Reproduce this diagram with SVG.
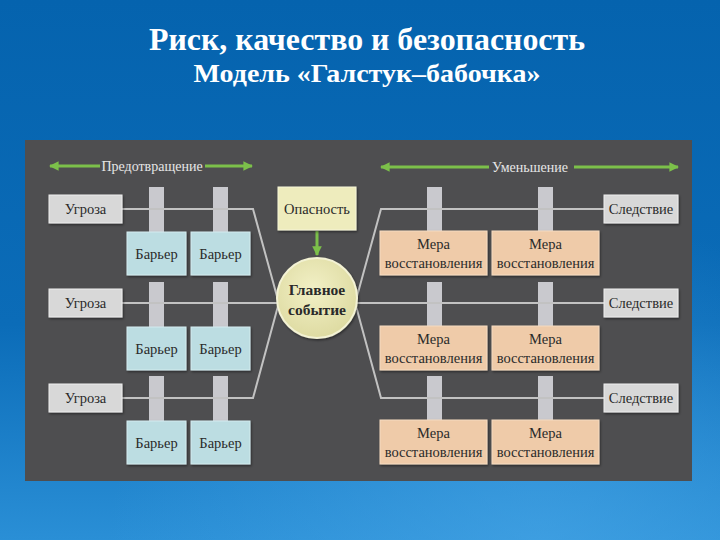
<svg xmlns="http://www.w3.org/2000/svg" width="720" height="540" viewBox="0 0 720 540">
<defs>
<linearGradient id="bg" x1="0" y1="0" x2="0" y2="1">
<stop offset="0" stop-color="#0563ae"/>
<stop offset="0.6" stop-color="#0b6cb8"/>
<stop offset="1" stop-color="#2a8fd6"/>
</linearGradient>
<radialGradient id="glow" cx="0.75" cy="1" r="0.6">
<stop offset="0" stop-color="#4aa8e8" stop-opacity="0.6"/>
<stop offset="1" stop-color="#4aa8e8" stop-opacity="0"/>
</radialGradient>
<radialGradient id="circ" cx="0.45" cy="0.4" r="0.6">
<stop offset="0" stop-color="#f2f0c6"/>
<stop offset="1" stop-color="#dedba2"/>
</radialGradient>
<marker id="ah" viewBox="0 0 10 10" refX="9" refY="5" markerWidth="3.2" markerHeight="3.2" orient="auto-start-reverse">
<path d="M0,0 L10,5 L0,10 z" fill="#7cc04a"/>
</marker>
<filter id="sh" x="-10%" y="-10%" width="130%" height="140%">
<feDropShadow dx="1" dy="1.5" stdDeviation="0.8" flood-color="#000" flood-opacity="0.45"/>
</filter>
</defs>
<style>
.title{font-family:"Liberation Serif","Times New Roman",serif;font-weight:bold;fill:#ffffff;text-anchor:middle}
.t{font-family:"Liberation Serif","Times New Roman",serif;font-size:14.5px;fill:#2a2a2a;text-anchor:middle;dominant-baseline:central}
.tb{font-family:"Liberation Serif","Times New Roman",serif;font-size:15.5px;font-weight:bold;fill:#2a2a2a;text-anchor:middle;dominant-baseline:central}
.ph{font-family:"Liberation Serif","Times New Roman",serif;font-size:14px;fill:#e6e6e6;text-anchor:middle;dominant-baseline:central}
.gray{fill:#d8d8d8;stroke:#eeeeee;stroke-width:1;filter:url(#sh)}
.bar{fill:#bcdde2;stroke:#d4ecef;stroke-width:1;filter:url(#sh)}
.mera{fill:#efcba9;stroke:#f6dcc2;stroke-width:1;filter:url(#sh)}
.haz{fill:#eeecbd;stroke:#f6f5d8;stroke-width:1;filter:url(#sh)}
.line{fill:none;stroke:#c2c2c2;stroke-width:2}
.vbar{fill:#c9c9ce}
.garrow{fill:none;stroke:#7cc04a;stroke-width:3;marker-end:url(#ah)}
</style>
<rect width="720" height="540" fill="url(#bg)"/>
<rect width="720" height="540" fill="url(#glow)"/>
<text class="title" x="367" y="50" font-size="31" textLength="436" lengthAdjust="spacingAndGlyphs">Риск, качество и безопасность</text>
<text class="title" x="367" y="82" font-size="25" textLength="347" lengthAdjust="spacingAndGlyphs">Модель «Галстук–бабочка»</text>
<rect x="25" y="140" width="667" height="341" fill="#4e4e50"/>
<g id="phases">
<line class="garrow" x1="100" y1="166" x2="50" y2="166"/>
<line class="garrow" x1="205" y1="166" x2="252" y2="166"/>
<text class="ph" x="152" y="166">Предотвращение</text>
<line class="garrow" x1="489" y1="167" x2="381" y2="167"/>
<line class="garrow" x1="574" y1="167" x2="678" y2="167"/>
<text class="ph" x="530" y="167">Уменьшение</text>
</g>
<g id="connectors">
<rect class="vbar" x="149" y="187" width="15" height="48"/>
<rect class="vbar" x="213" y="187" width="15" height="48"/>
<rect class="vbar" x="149" y="282" width="15" height="48"/>
<rect class="vbar" x="213" y="282" width="15" height="48"/>
<rect class="vbar" x="149" y="376" width="15" height="48"/>
<rect class="vbar" x="213" y="376" width="15" height="48"/>
<rect class="vbar" x="427" y="187" width="15" height="48"/>
<rect class="vbar" x="538" y="187" width="15" height="48"/>
<rect class="vbar" x="427" y="282" width="15" height="48"/>
<rect class="vbar" x="538" y="282" width="15" height="48"/>
<rect class="vbar" x="427" y="376" width="15" height="48"/>
<rect class="vbar" x="538" y="376" width="15" height="48"/>
<path class="line" d="M122,209 H253 L278,300"/>
<path class="line" d="M122,303 H280"/>
<path class="line" d="M122,398 H253 L278,306"/>
<path class="line" d="M356,300 L381,209 H604"/>
<path class="line" d="M354,303 H604"/>
<path class="line" d="M356,306 L381,398 H604"/>
<line class="garrow" x1="317" y1="231" x2="317" y2="255"/>
</g>
<g id="threat1"><rect class="gray" x="49" y="195" width="73" height="28"/><text class="t" x="85.5" y="209">Угроза</text></g>
<g id="threat2"><rect class="gray" x="49" y="289" width="73" height="28"/><text class="t" x="85.5" y="303">Угроза</text></g>
<g id="threat3"><rect class="gray" x="49" y="384" width="73" height="28"/><text class="t" x="85.5" y="398">Угроза</text></g>
<g id="barrier1a"><rect class="bar" x="127" y="232" width="59" height="43"/><text class="t" x="156.5" y="253.5">Барьер</text></g>
<g id="barrier1b"><rect class="bar" x="191" y="232" width="59" height="43"/><text class="t" x="220.5" y="253.5">Барьер</text></g>
<g id="barrier2a"><rect class="bar" x="127" y="327" width="59" height="43"/><text class="t" x="156.5" y="348.5">Барьер</text></g>
<g id="barrier2b"><rect class="bar" x="191" y="327" width="59" height="43"/><text class="t" x="220.5" y="348.5">Барьер</text></g>
<g id="barrier3a"><rect class="bar" x="127" y="421" width="59" height="43"/><text class="t" x="156.5" y="442.5">Барьер</text></g>
<g id="barrier3b"><rect class="bar" x="191" y="421" width="59" height="43"/><text class="t" x="220.5" y="442.5">Барьер</text></g>
<g id="hazard"><rect class="haz" x="278" y="187" width="78" height="43"/><text class="t" x="317" y="209">Опасность</text></g>
<g id="top-event"><circle cx="317" cy="298" r="40" fill="url(#circ)" stroke="#f3f2d4" stroke-width="2" filter="url(#sh)"/><text class="tb" x="317" y="289">Главное</text><text class="tb" x="317" y="309">событие</text></g>
<g id="recovery1a"><rect class="mera" x="380" y="231" width="107" height="44"/><text class="t" x="433.5" y="244">Мера</text><text class="t" x="433.5" y="263">восстановления</text></g>
<g id="recovery1b"><rect class="mera" x="492" y="231" width="107" height="44"/><text class="t" x="545.5" y="244">Мера</text><text class="t" x="545.5" y="263">восстановления</text></g>
<g id="recovery2a"><rect class="mera" x="380" y="326" width="107" height="44"/><text class="t" x="433.5" y="339">Мера</text><text class="t" x="433.5" y="358">восстановления</text></g>
<g id="recovery2b"><rect class="mera" x="492" y="326" width="107" height="44"/><text class="t" x="545.5" y="339">Мера</text><text class="t" x="545.5" y="358">восстановления</text></g>
<g id="recovery3a"><rect class="mera" x="380" y="420" width="107" height="44"/><text class="t" x="433.5" y="433">Мера</text><text class="t" x="433.5" y="452">восстановления</text></g>
<g id="recovery3b"><rect class="mera" x="492" y="420" width="107" height="44"/><text class="t" x="545.5" y="433">Мера</text><text class="t" x="545.5" y="452">восстановления</text></g>
<g id="consequence1"><rect class="gray" x="604" y="195" width="74" height="28"/><text class="t" x="641" y="209">Следствие</text></g>
<g id="consequence2"><rect class="gray" x="604" y="289" width="74" height="28"/><text class="t" x="641" y="303">Следствие</text></g>
<g id="consequence3"><rect class="gray" x="604" y="384" width="74" height="28"/><text class="t" x="641" y="398">Следствие</text></g>
</svg>
